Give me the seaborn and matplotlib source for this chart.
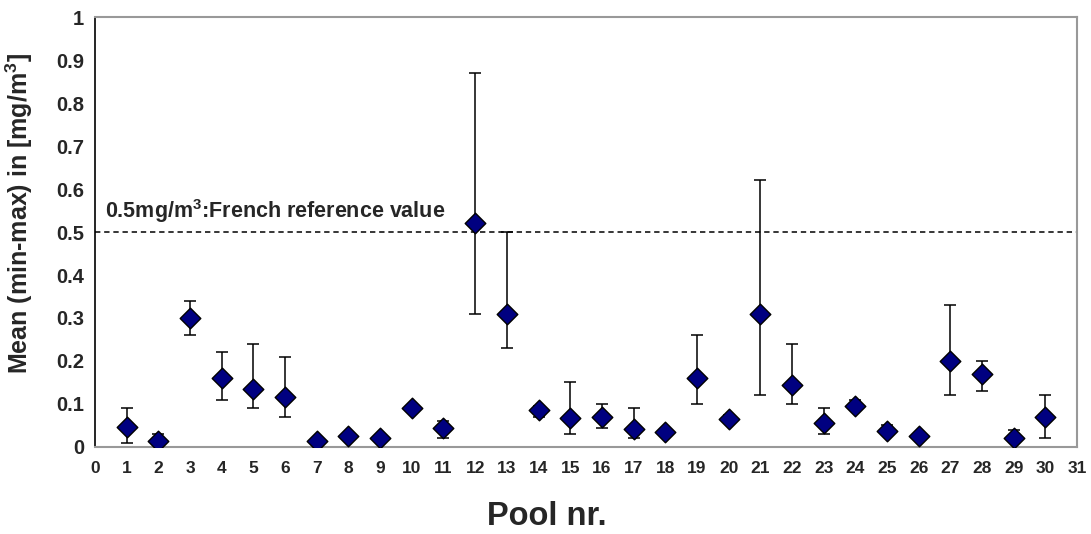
import numpy as np
import pandas as pd
import matplotlib
matplotlib.use("Agg")
import matplotlib.pyplot as plt
import seaborn as sns

pool = list(range(1, 31))
mean_vals = [0.046, 0.015, 0.300, 0.160, 0.135, 0.117, 0.015, 0.025, 0.022, 0.090,
             0.043, 0.520, 0.310, 0.085, 0.068, 0.070, 0.042, 0.035, 0.160, 0.065,
             0.310, 0.145, 0.055, 0.095, 0.038, 0.025, 0.200, 0.170, 0.022, 0.070]
min_vals = [0.010, 0.000, 0.260, 0.110, 0.090, 0.070, 0.015, 0.025, 0.022, 0.090,
            0.020, 0.310, 0.230, 0.070, 0.030, 0.045, 0.020, 0.025, 0.100, 0.055,
            0.120, 0.100, 0.030, 0.085, 0.030, 0.025, 0.120, 0.130, 0.015, 0.020]
max_vals = [0.090, 0.030, 0.340, 0.220, 0.240, 0.210, 0.015, 0.025, 0.022, 0.090,
            0.060, 0.870, 0.500, 0.095, 0.150, 0.100, 0.090, 0.040, 0.260, 0.075,
            0.620, 0.240, 0.090, 0.110, 0.050, 0.025, 0.330, 0.200, 0.040, 0.120]
ref_value = 0.5
ref_label = "0.5mg/m$^{\\mathbf{3}}$:French reference value"
x_ticks = list(range(0, 32))
y_ticks = [0, 0.1, 0.2, 0.3, 0.4, 0.5, 0.6, 0.7, 0.8, 0.9, 1]
y_tick_labels = ["0", "0.1", "0.2", "0.3", "0.4", "0.5", "0.6", "0.7", "0.8", "0.9", "1"]

df = pd.DataFrame({"pool": pool, "mean": mean_vals, "min": min_vals, "max": max_vals})

sns.set_theme(style="white")
plt.rcParams["font.family"] = ["Liberation Sans", "DejaVu Sans"]
plt.rcParams["mathtext.fontset"] = "custom"
plt.rcParams["mathtext.bf"] = "Liberation Sans:bold"
plt.rcParams["mathtext.rm"] = "Liberation Sans:bold"

fig = plt.figure(figsize=(10.91, 5.34), dpi=100)
ax = fig.add_axes([0.0871, 0.163, 0.9001, 0.805])

# error bars (only where a range exists)
has_err = df[(df["max"] - df["min"]) > 1e-9]
ax.errorbar(has_err["pool"], has_err["mean"],
            yerr=[has_err["mean"] - has_err["min"], has_err["max"] - has_err["mean"]],
            fmt="none", ecolor="black", elinewidth=1.1, capsize=4, capthick=1.1, zorder=2)

sns.scatterplot(data=df, x="pool", y="mean", marker="D", s=110, color="#000080",
                edgecolor="black", linewidth=1.0, ax=ax, zorder=3, legend=False)

ax.plot([0, 31], [ref_value, ref_value], linestyle=(0, (3.5, 2.5)), color="black", lw=1.1, zorder=1)
ax.text(0.3, ref_value + 0.016, ref_label, fontsize=15.5, fontweight="bold", ha="left", va="bottom")

ax.set_xlim(0, 31)
ax.set_ylim(0, 1)
ax.set_xticks(x_ticks)
ax.set_xticklabels([str(t) for t in x_ticks], fontsize=12.5, fontweight="bold")
ax.set_yticks(y_ticks)
ax.set_yticklabels(y_tick_labels, fontsize=14.5, fontweight="bold")
ax.tick_params(axis="y", direction="out", length=5, width=1, color="black", pad=3)
ax.tick_params(axis="x", length=0, pad=10)

ax.set_xlabel("Pool nr.", fontsize=23.5, fontweight="bold")
ax.xaxis.set_label_coords(0.46, -0.125)
ax.set_ylabel("Mean (min-max) in [mg/m$^{\\mathbf{3}}$]", fontsize=18, fontweight="bold")
ax.yaxis.set_label_coords(-0.061, 0.544)

for side in ["top", "right", "bottom"]:
    ax.spines[side].set_color("#999999")
    ax.spines[side].set_linewidth(1.5)
ax.spines["left"].set_color("black")
ax.spines["left"].set_linewidth(1.2)

fig.savefig("out.png", dpi=100)
